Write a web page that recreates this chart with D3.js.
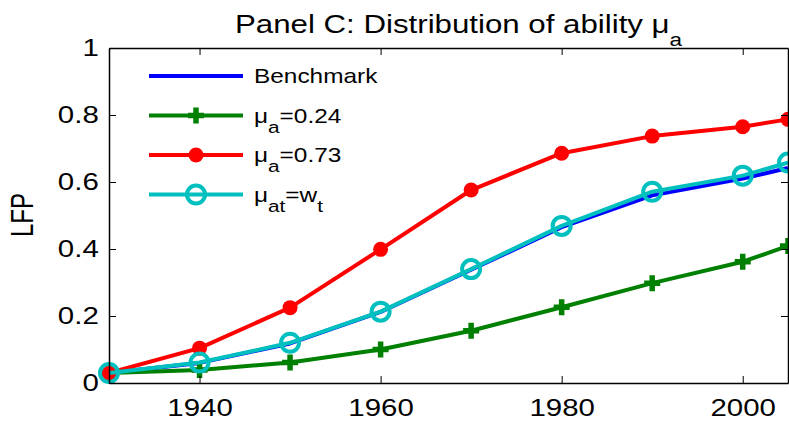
<!DOCTYPE html>
<html><head><meta charset="utf-8">
<script src="https://cdn.jsdelivr.net/npm/d3@7"></script>
<style>body{margin:0;background:#fff}svg{display:block}text{font-family:"Liberation Sans",Arial,sans-serif}</style>
</head><body><svg id="c" width="789" height="422"></svg>
<script>
const years = [1930,1940,1950,1960,1970,1980,1990,2000,2005];
const benchmark = [0.030,0.060,0.118,0.212,0.338,0.465,0.560,0.610,0.642];
const low024 = [0.030,0.039,0.061,0.100,0.156,0.226,0.298,0.362,0.409];
const high073 = [0.030,0.104,0.225,0.399,0.576,0.686,0.737,0.765,0.787];
const wt = [0.030,0.061,0.120,0.213,0.340,0.469,0.571,0.619,0.658];
const xTicks = [1940,1960,1980,2000];
const yTicks = [0,0.2,0.4,0.6,0.8,1];

const svg = d3.select("#c");
const L=109,R=788,T=48,B=383;
const SX=1.28;
const x = d3.scaleLinear().domain([1930,2005]).range([L,R]);
const y = d3.scaleLinear().domain([0,1]).range([B,T]);

const series = [
  {vals:benchmark,color:"#0000ff",marker:"none"},
  {vals:low024,color:"#008000",marker:"plus"},
  {vals:high073,color:"#ff0000",marker:"dot"},
  {vals:wt,color:"#00bfbf",marker:"circle"}
];
const line = d3.line().x((d,i)=>x(years[i])).y(d=>y(d));
function drawMarker(g,m,cx,cy,color){
  if(m==="plus"){
    g.append("path").attr("d",`M${cx-8},${cy}H${cx+8}M${cx},${cy-8}V${cy+8}`).attr("stroke",color).attr("stroke-width",5.5).attr("fill","none");
  } else if(m==="dot"){
    g.append("circle").attr("cx",cx).attr("cy",cy).attr("r",7.5).attr("fill",color);
  } else if(m==="circle"){
    g.append("circle").attr("cx",cx).attr("cy",cy).attr("r",9).attr("fill","none").attr("stroke",color).attr("stroke-width",4);
  }
}
const plot = svg.append("g");
series.forEach(s=>{
  plot.append("path").datum(s.vals).attr("d",line).attr("fill","none").attr("stroke",s.color).attr("stroke-width",4).attr("stroke-linejoin","round");
  s.vals.forEach((v,i)=>drawMarker(plot,s.marker,x(years[i]),y(v),s.color));
});

// axes box
const ax = svg.append("g");
const xa = ax.append("g").attr("transform",`translate(0,${B})`).call(d3.axisBottom(x).tickValues(xTicks).tickFormat(d3.format("d")).tickSizeInner(-7).tickSizeOuter(0).tickPadding(17));
const ya = ax.append("g").attr("transform",`translate(${L},0)`).call(d3.axisLeft(y).tickValues(yTicks).tickFormat(d=>d===0?"0":d===1?"1":d3.format(".1f")(d)).tickSizeInner(-7).tickSizeOuter(0).tickPadding(8));
ax.append("g").attr("transform",`translate(0,${T})`).call(d3.axisTop(x).tickValues(xTicks).tickFormat("").tickSizeInner(-7).tickSizeOuter(0));
ax.append("g").attr("transform",`translate(${R},0)`).call(d3.axisRight(y).tickValues(yTicks).tickFormat("").tickSizeInner(-7).tickSizeOuter(0));
ax.selectAll(".domain").attr("stroke","#000").attr("stroke-width",1.5);
ax.selectAll(".tick line").attr("stroke","#000").attr("stroke-width",1);
xa.selectAll("text").attr("font-size",23).attr("fill","#000").attr("dy","0.71em").attr("transform",`scale(${SX},1)`);
ya.selectAll("text").attr("font-size",23).attr("fill","#000").attr("transform",`scale(${SX},1)`);

// title
const t = svg.append("text").attr("transform",`translate(235,33) scale(1.25,1)`).attr("text-anchor","start").attr("font-size",25).attr("fill","#000");
t.append("tspan").text("Panel C: Distribution of ability ");
t.append("tspan").text("μ");
t.append("tspan").attr("font-size",18).attr("dy",13).text("a");

// y label
svg.append("text").attr("transform","translate(33,215) scale(1.27,1) rotate(-90)").attr("text-anchor","middle").attr("font-size",24).attr("fill","#000").text("LFP");

// legend
const legend = [
  {label:[["Benchmark",0]],color:"#0000ff",marker:"none"},
  {label:[["μ",0],["a",1],["=0.24",0]],color:"#008000",marker:"plus"},
  {label:[["μ",0],["a",1],["=0.73",0]],color:"#ff0000",marker:"dot"},
  {label:[["μ",0],["at",1],["=w",0],["t",1]],color:"#00bfbf",marker:"circle"}
];
const lg = svg.append("g");
legend.forEach((l,i)=>{
  const yy = 76 + i*39.5;
  lg.append("line").attr("x1",149).attr("x2",243).attr("y1",yy).attr("y2",yy).attr("stroke",l.color).attr("stroke-width",4);
  drawMarker(lg,l.marker,196,yy,l.color);
  const tx = lg.append("text").attr("transform",`translate(254,${yy+7}) scale(1.22,1)`).attr("font-size",20).attr("fill","#000");
  let sub=false;
  l.label.forEach(([s,isSub])=>{
    const sp = tx.append("tspan").text(s);
    if(isSub && !sub){sp.attr("dy",10).attr("font-size",17);sub=true;}
    else if(isSub){sp.attr("font-size",17);}
    else if(!isSub && sub){sp.attr("dy",-10);sub=false;}
  });
});
</script></body></html>
